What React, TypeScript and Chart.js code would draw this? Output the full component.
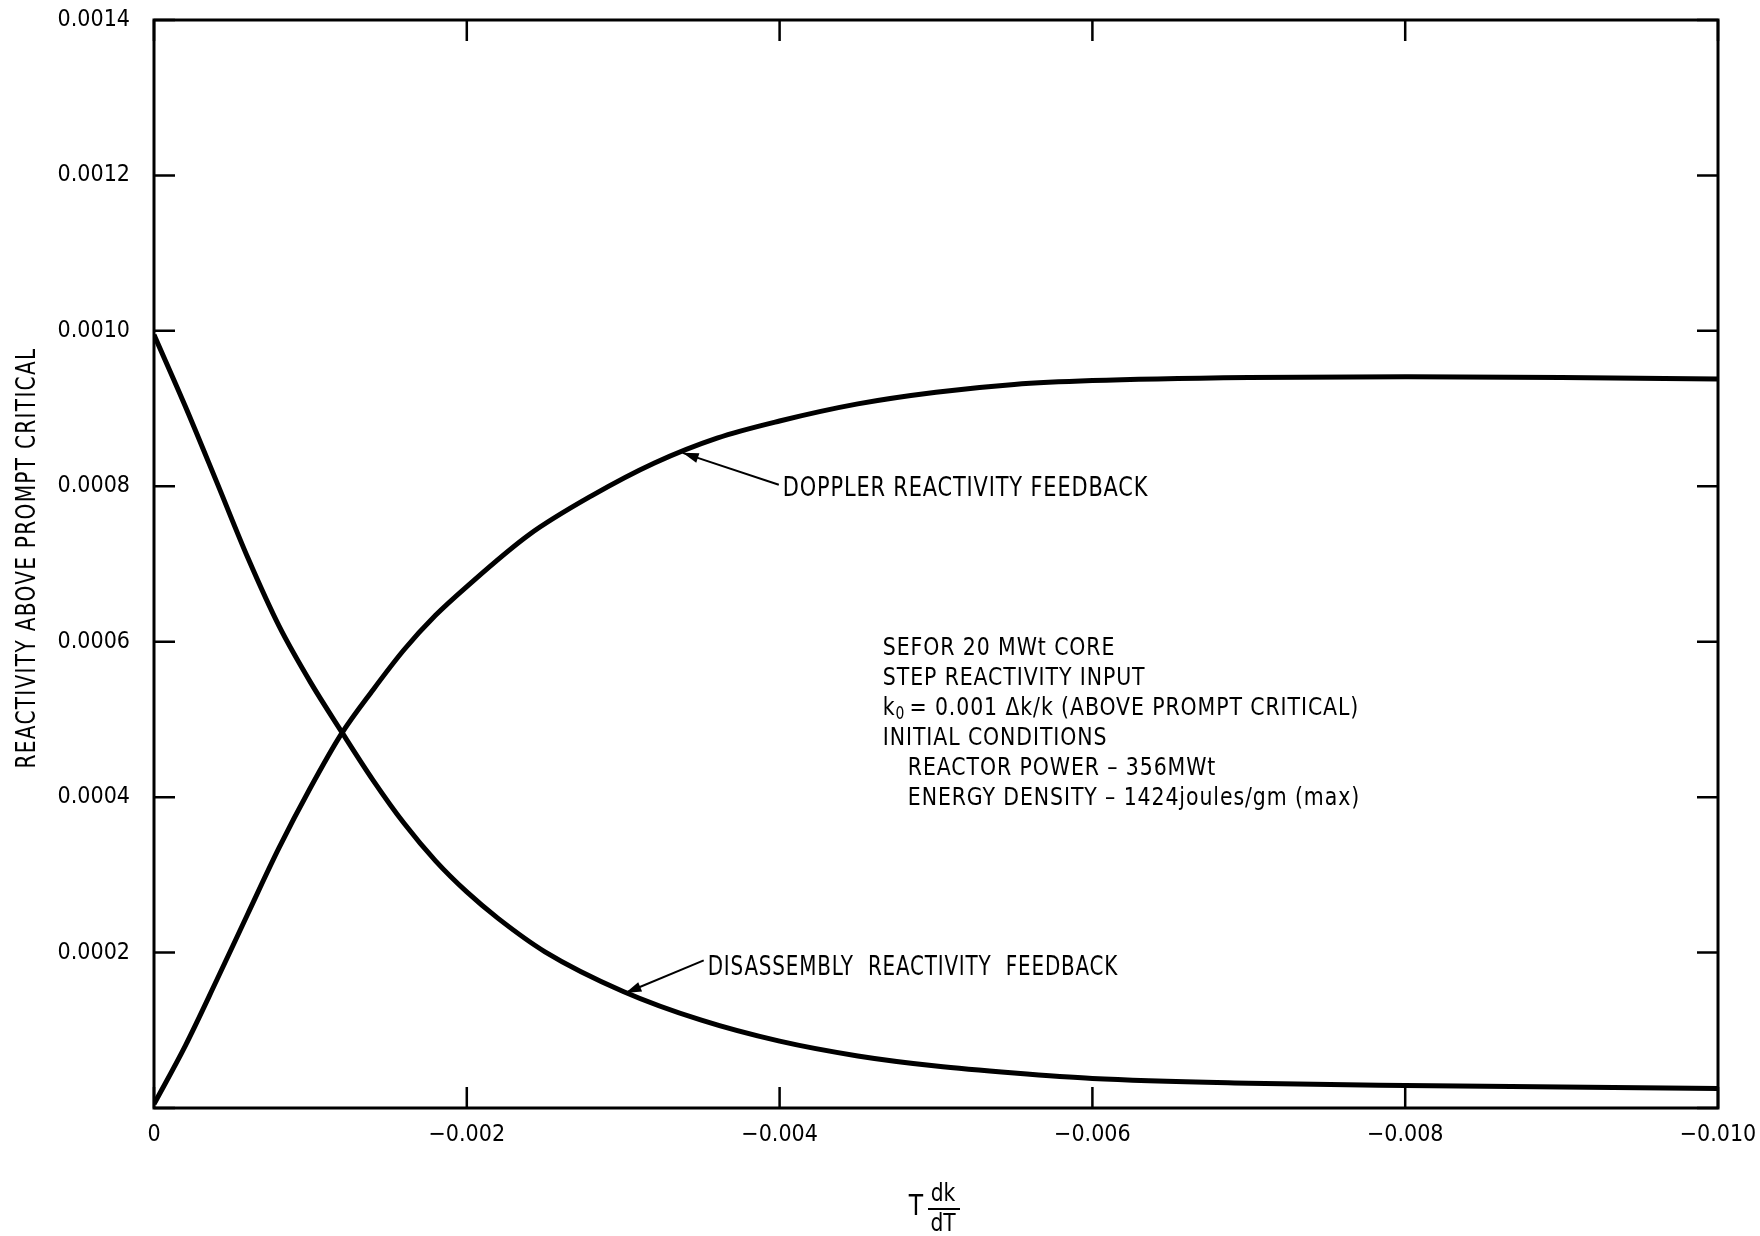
import React, { useEffect, useRef } from 'react';
import { Chart, registerables } from 'chart.js';

Chart.register(...registerables);

// ---------- data ----------
const dopplerX = [0, -0.0002, -0.0004, -0.0006, -0.0008, -0.001, -0.0012, -0.0014, -0.0016, -0.0018, -0.002, -0.0024, -0.0028, -0.0032, -0.0036, -0.004, -0.0045, -0.005, -0.0055, -0.006, -0.007, -0.008, -0.009, -0.01];
const dopplerY = [0.000005, 0.00008, 0.000164, 0.00025, 0.000335, 0.000412, 0.000482, 0.000538, 0.00059, 0.000634, 0.000671, 0.000738, 0.000788, 0.00083, 0.000862, 0.000884, 0.000906, 0.000921, 0.000931, 0.000936, 0.00094, 0.000941, 0.00094, 0.000938];

const disassemblyX = [0, -0.0002, -0.0004, -0.0006, -0.0008, -0.001, -0.0012, -0.0014, -0.0016, -0.0018, -0.002, -0.0022, -0.0025, -0.003, -0.0035, -0.004, -0.0045, -0.005, -0.0055, -0.006, -0.007, -0.008, -0.009, -0.01];
const disassemblyY = [0.000995, 0.000903, 0.000806, 0.000708, 0.00062, 0.000548, 0.000484, 0.000422, 0.000366, 0.000318, 0.000278, 0.000244, 0.000201, 0.00015, 0.000113, 0.000086, 0.000067, 0.000054, 0.000045, 0.000038, 0.000032, 0.000029, 0.000027, 0.000025];

const xTickValues = [0, -0.002, -0.004, -0.006, -0.008, -0.01];
const yTickValues = [0, 0.0002, 0.0004, 0.0006, 0.0008, 0.001, 0.0012, 0.0014];

const yAxisTitle = 'REACTIVITY ABOVE PROMPT CRITICAL';
const dopplerLabel = 'DOPPLER REACTIVITY FEEDBACK';
const disassemblyLabel = 'DISASSEMBLY  REACTIVITY  FEEDBACK';
const noteLines = [
  'SEFOR 20 MWt CORE',
  'STEP REACTIVITY INPUT',
  '= 0.001 Δk/k (ABOVE PROMPT CRITICAL)',
  'INITIAL CONDITIONS',
  'REACTOR POWER – 356MWt',
  'ENERGY DENSITY – 1424joules/gm (max)',
];

// annotation anchors (data units)
const dopplerText = { x: -0.00402, y: 0.000797 };
const dopplerArrowTail = { x: -0.003995, y: 0.000802 };
const dopplerArrowTip = { x: -0.00338, y: 0.000843 };
const disText = { x: -0.00354, y: 0.00018 };
const disArrowTail = { x: -0.003515, y: 0.00019 };
const disArrowTip = { x: -0.003014, y: 0.000148 };
const noteAnchor = { x: -0.00466, y: 0.000591 };

const FONT = "'DejaVu Sans Condensed', 'DejaVu Sans', sans-serif";

function drawText(ctx: any, text: string, x: number, y: number, size: number, sx: number, spacing: number, align: string = 'left') {
  ctx.save();
  ctx.font = `${size}px ${FONT}`;
  ctx.letterSpacing = `${spacing}px`;
  ctx.textAlign = align;
  ctx.textBaseline = 'middle';
  ctx.translate(x, y);
  ctx.scale(sx, 1);
  ctx.fillText(text, 0, 0);
  const w = ctx.measureText(text).width * sx;
  ctx.restore();
  return w;
}

function drawArrow(ctx: CanvasRenderingContext2D, x1: number, y1: number, x2: number, y2: number) {
  ctx.beginPath();
  ctx.moveTo(x1, y1);
  ctx.lineTo(x2, y2);
  ctx.stroke();
  const ang = Math.atan2(y2 - y1, x2 - x1);
  const len = 16;
  const w = 5;
  const bx = x2 - len * Math.cos(ang);
  const by = y2 - len * Math.sin(ang);
  ctx.beginPath();
  ctx.moveTo(x2, y2);
  ctx.lineTo(bx + w * Math.sin(ang), by - w * Math.cos(ang));
  ctx.lineTo(bx - w * Math.sin(ang), by + w * Math.cos(ang));
  ctx.closePath();
  ctx.fill();
}

const decorPlugin = {
  id: 'decor',
  beforeDraw(chart: any) {
    const { ctx, width, height } = chart;
    ctx.save();
    ctx.fillStyle = '#fff';
    ctx.fillRect(0, 0, width, height);
    ctx.restore();
  },
  afterDraw(chart: any) {
    const { ctx, chartArea: a } = chart;
    const xs = chart.scales.x;
    const ys = chart.scales.y;
    ctx.save();
    ctx.strokeStyle = '#000';
    ctx.fillStyle = '#000';
    // frame
    ctx.lineWidth = 3;
    ctx.strokeRect(a.left, a.top, a.right - a.left, a.bottom - a.top);
    // inward ticks
    ctx.lineWidth = 2.5;
    const tl = 21;
    yTickValues.forEach((v) => {
      const py = ys.getPixelForValue(v);
      ctx.beginPath();
      ctx.moveTo(a.left, py); ctx.lineTo(a.left + tl, py);
      ctx.moveTo(a.right - tl, py); ctx.lineTo(a.right, py);
      ctx.stroke();
    });
    xTickValues.forEach((v) => {
      const px = xs.getPixelForValue(v);
      ctx.beginPath();
      ctx.moveTo(px, a.bottom); ctx.lineTo(px, a.bottom - tl);
      ctx.moveTo(px, a.top); ctx.lineTo(px, a.top + tl);
      ctx.stroke();
    });

    // arrows
    ctx.lineWidth = 2;
    drawArrow(ctx, xs.getPixelForValue(dopplerArrowTail.x), ys.getPixelForValue(dopplerArrowTail.y),
      xs.getPixelForValue(dopplerArrowTip.x), ys.getPixelForValue(dopplerArrowTip.y));
    drawArrow(ctx, xs.getPixelForValue(disArrowTail.x), ys.getPixelForValue(disArrowTail.y),
      xs.getPixelForValue(disArrowTip.x), ys.getPixelForValue(disArrowTip.y));

    // curve labels
    drawText(ctx, dopplerLabel, xs.getPixelForValue(dopplerText.x), ys.getPixelForValue(dopplerText.y), 27, 0.86, 1);
    drawText(ctx, disassemblyLabel, xs.getPixelForValue(disText.x), ys.getPixelForValue(disText.y), 27, 0.82, 1);

    // note block
    const nx = xs.getPixelForValue(noteAnchor.x);
    const ny = ys.getPixelForValue(noteAnchor.y);
    const lh = 30;
    noteLines.forEach((line, i) => {
      const y = ny + i * lh;
      let x = nx + (i >= 4 ? 25 : 0);
      if (i === 2) {
        const kw = drawText(ctx, 'k', x, y, 25, 0.91, 1);
        const zw = drawText(ctx, '0', x + kw, y + 6, 17, 0.91, 0);
        x = x + kw + zw + 5;
      }
      drawText(ctx, line, x, y, 25, 0.91, 1);
    });

    // y axis title
    ctx.save();
    ctx.translate(28, (a.top + a.bottom) / 2 - 6);
    ctx.rotate(-Math.PI / 2);
    drawText(ctx, yAxisTitle, 0, 0, 26, 0.86, 1.5, 'center');
    ctx.restore();

    // x axis title: T dk/dT
    const cx = (a.left + a.right) / 2;
    drawText(ctx, 'T', cx - 20, 1207, 29, 0.9, 0, 'center');
    drawText(ctx, 'dk', cx + 7, 1194, 25, 0.9, 0, 'center');
    drawText(ctx, 'dT', cx + 7, 1224, 25, 0.9, 0, 'center');
    ctx.lineWidth = 2;
    ctx.beginPath();
    ctx.moveTo(cx - 8, 1209);
    ctx.lineTo(cx + 24, 1209);
    ctx.stroke();
    ctx.restore();
  },
};

export default function App() {
  const ref = useRef<HTMLCanvasElement | null>(null);
  useEffect(() => {
    if (!ref.current) return;
    const chart = new Chart(ref.current, {
      type: 'line',
      data: {
        datasets: [
          {
            label: 'Doppler reactivity feedback',
            data: dopplerX.map((x, i) => ({ x, y: dopplerY[i] })),
            borderColor: '#000',
            borderWidth: 5,
            pointRadius: 0,
            cubicInterpolationMode: 'monotone',
            fill: false,
          },
          {
            label: 'Disassembly reactivity feedback',
            data: disassemblyX.map((x, i) => ({ x, y: disassemblyY[i] })),
            borderColor: '#000',
            borderWidth: 5,
            pointRadius: 0,
            cubicInterpolationMode: 'monotone',
            fill: false,
          },
        ],
      },
      options: {
        responsive: false,
        animation: false,
        layout: { padding: { top: 20, right: 42, left: 0, bottom: 0 } },
        plugins: { legend: { display: false }, tooltip: { enabled: false } },
        scales: {
          x: {
            type: 'linear',
            min: -0.01,
            max: 0,
            reverse: true,
            grid: { display: false, drawTicks: false },
            border: { display: false },
            afterBuildTicks: (s: any) => { s.ticks = xTickValues.map((v) => ({ value: v })); },
            afterFit: (s: any) => { s.height = 128; s.paddingLeft = 0; s.paddingRight = 0; },
            ticks: {
              autoSkip: false,
              maxRotation: 0,
              padding: 13,
              color: '#000',
              font: { family: FONT, size: 23 },
              callback: (v: any) => (Number(v) === 0 ? '0' : '−' + Math.abs(Number(v)).toFixed(3)),
            },
          },
          y: {
            type: 'linear',
            min: 0,
            max: 0.0014,
            grid: { display: false, drawTicks: false },
            border: { display: false },
            afterBuildTicks: (s: any) => { s.ticks = yTickValues.map((v) => ({ value: v })); },
            afterFit: (s: any) => { s.width = 154; s.paddingTop = 0; s.paddingBottom = 0; },
            ticks: {
              padding: 24,
              color: '#000',
              font: { family: FONT, size: 23 },
              callback: (v: any) => (Number(v) === 0 ? '' : Number(v).toFixed(4)),
            },
          },
        },
      },
      plugins: [decorPlugin],
    } as any);
    return () => chart.destroy();
  }, []);
  return (
    <div style={{ position: 'absolute', left: 0, top: 0, width: 1760, height: 1236 }}>
      <canvas ref={ref} width={1760} height={1236} />
    </div>
  );
}
